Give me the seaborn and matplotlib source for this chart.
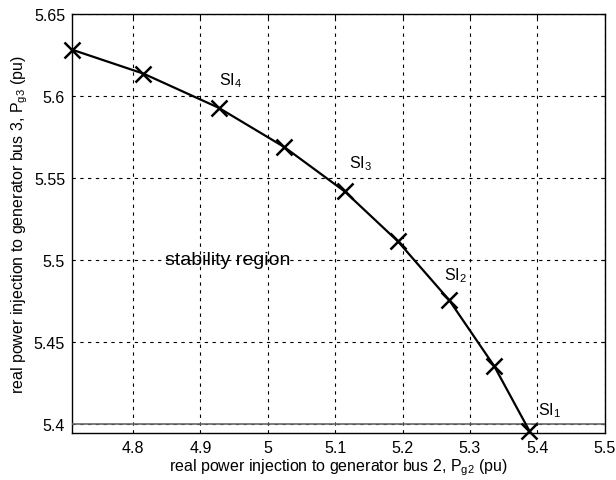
import pandas as pd
import matplotlib
matplotlib.use('Agg')
import matplotlib.pyplot as plt
import seaborn as sns

# points along the stability boundary
pg2 = [4.7095, 4.8153, 4.9272, 5.0246, 5.1142, 5.1932, 5.2693, 5.3361, 5.3881]
pg3 = [5.6284, 5.6138, 5.5929, 5.5689, 5.5418, 5.5113, 5.4754, 5.4351, 5.3957]

labels = ['SI$_\\mathregular{4}$', 'SI$_\\mathregular{3}$', 'SI$_\\mathregular{2}$', 'SI$_\\mathregular{1}$']
label_x = [4.927, 5.120, 5.262, 5.4006]
label_y = [5.6045, 5.5538, 5.4855, 5.4029]

xticks = [4.8, 4.9, 5, 5.1, 5.2, 5.3, 5.4, 5.5]
xtick_labels = ['4.8', '4.9', '5', '5.1', '5.2', '5.3', '5.4', '5.5']
yticks = [5.4, 5.45, 5.5, 5.55, 5.6, 5.65]
ytick_labels = ['5.4', '5.45', '5.5', '5.55', '5.6', '5.65']

df = pd.DataFrame({'pg2': pg2, 'pg3': pg3})

sns.set_style('white')
plt.rcParams['font.family'] = ['Liberation Sans', 'DejaVu Sans']
plt.rcParams['text.color'] = 'black'
plt.rcParams['axes.labelcolor'] = 'black'
plt.rcParams['mathtext.fontset'] = 'custom'
plt.rcParams['mathtext.rm'] = 'Liberation Sans'
plt.rcParams['mathtext.it'] = 'Liberation Sans:italic'

fig = plt.figure(figsize=(6.16, 4.81), dpi=100)
ax = fig.add_axes([0.1169, 0.0977, 0.8648, 0.8705])

sns.lineplot(data=df, x='pg2', y='pg3', sort=False, color='black', linewidth=1.6,
             marker='x', markersize=11, markeredgewidth=1.8, markeredgecolor='black',
             ax=ax, zorder=5, clip_on=False)

ax.axhline(5.4, color='#666666', linewidth=1.2, zorder=3)

ax.set_xlim(4.7095, 5.5)
ax.set_ylim(5.3943, 5.65)
ax.set_xticks(xticks)
ax.set_xticklabels(xtick_labels)
ax.set_yticks(yticks)
ax.set_yticklabels(ytick_labels)
ax.grid(True, color='black', linestyle=(0, (3, 4)), linewidth=0.8)
ax.tick_params(direction='in', length=3, width=0.8, top=True, right=True,
               labelsize=11.5, colors='black', pad=5)
for sp in ax.spines.values():
    sp.set_color('black')
    sp.set_linewidth(1.0)

for t, x, y in zip(labels, label_x, label_y):
    ax.text(x, y, t, fontsize=11.5, ha='left', va='bottom', color='black')

ax.text(4.8475, 5.5, 'stability region', fontsize=14, ha='left', va='center', color='black')

ax.set_xlabel('real power injection to generator bus 2, P$_\\mathregular{g2}$ (pu)', fontsize=11.5, labelpad=1)
ax.set_ylabel('real power injection to generator bus 3, P$_\\mathregular{g3}$ (pu)', fontsize=11.5, labelpad=3)

fig.savefig('out.png', dpi=100)
